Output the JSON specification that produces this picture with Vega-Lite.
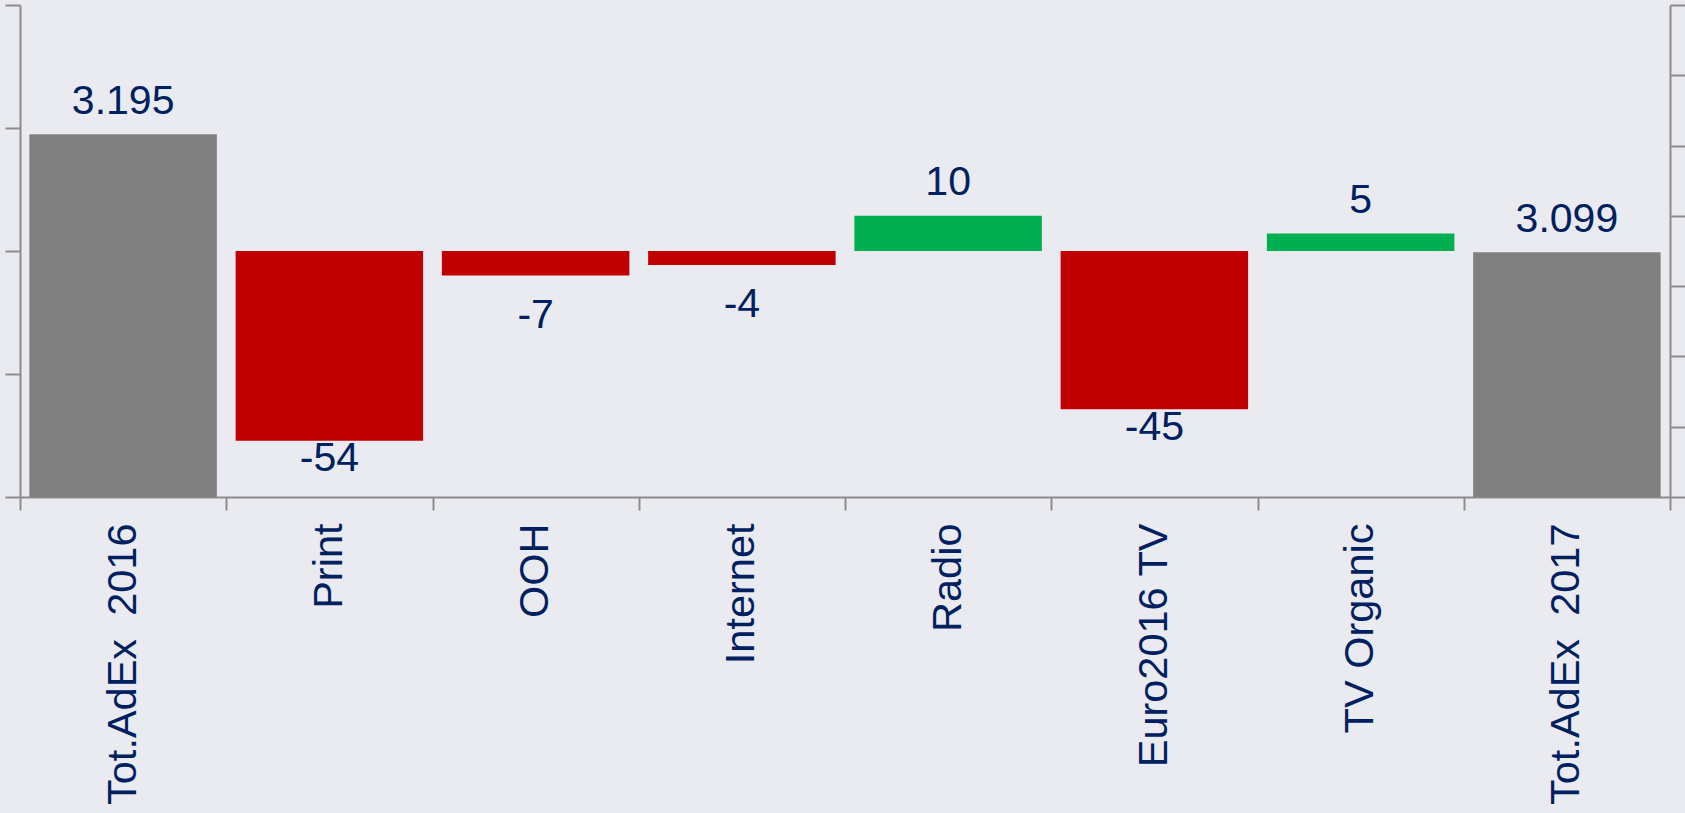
{
  "$schema": "https://vega.github.io/schema/vega-lite/v6.json",
  "width": 1650,
  "height": 492,
  "autosize": {"type": "none"},
  "padding": {"left": 20, "top": 5, "right": 15, "bottom": 316},
  "background": "#EAEBF0",
  "config": {
    "view": {"stroke": null},
    "locale": {"number": {"decimal": ",", "thousands": ".", "grouping": [3], "currency": ["", ""], "minus": "-"}},
    "axis": {"domainColor": "#8C8C8C", "tickColor": "#8C8C8C", "domainWidth": 2, "tickWidth": 2, "grid": false, "title": null},
    "text": {"font": "Liberation Sans", "fontSize": 41, "color": "#002060"}
  },
  "data": {"values": [
    {"category": "Tot.AdEx \u00a02016", "kind": "total", "value": 3195},
    {"category": "Print", "kind": "change", "value": -54},
    {"category": "OOH", "kind": "change", "value": -7},
    {"category": "Internet", "kind": "change", "value": -4},
    {"category": "Radio", "kind": "change", "value": 10},
    {"category": "Euro2016 TV", "kind": "change", "value": -45},
    {"category": "TV Organic", "kind": "change", "value": 5},
    {"category": "Tot.AdEx \u00a02017", "kind": "total", "value": 3099}
  ]},
  "encoding": {
    "x": {
      "field": "category", "type": "nominal", "sort": null,
      "scale": {
        "domain": ["Tot.AdEx \u00a02016", "Print", "OOH", "Internet", "Radio", "Euro2016 TV", "TV Organic", "Tot.AdEx \u00a02017"],
        "paddingInner": 0, "paddingOuter": 0
      },
      "axis": {
        "labelAngle": -90, "labelFontSize": 41.5, "labelColor": "#002060", "labelFont": "Liberation Sans",
        "tickSize": 13, "labelPadding": 13, "tickBand": "extent", "labelLimit": 500, "labelOverlap": false
      }
    }
  },
  "layer": [
    {
      "transform": [{"filter": "datum.kind === 'total'"}],
      "encoding": {
        "y": {
          "field": "value", "type": "quantitative",
          "scale": {"domain": [2900, 3300], "zero": false, "nice": false},
          "axis": {"orient": "left", "values": [2900, 3000, 3100, 3200, 3300], "labels": false, "tickSize": 15}
        }
      },
      "layer": [
        {"mark": {"type": "bar", "color": "#808080", "width": {"band": 0.909}}, "encoding": {"y2": {"datum": 2900}}},
        {"mark": {"type": "text", "baseline": "alphabetic", "dy": -20},
         "encoding": {"text": {"field": "value", "type": "quantitative", "format": ",d"}}}
      ]
    },
    {
      "transform": [{"filter": "datum.kind === 'change'"}],
      "encoding": {
        "y": {
          "field": "value", "type": "quantitative",
          "scale": {"domain": [-70, 70], "zero": false, "nice": false},
          "axis": {"orient": "right", "values": [-70, -50, -30, -10, 10, 30, 50, 70], "labels": false, "tickSize": 15}
        }
      },
      "layer": [
        {"mark": {"type": "bar", "width": {"band": 0.909}},
         "encoding": {
           "y2": {"datum": 0},
           "color": {"condition": {"test": "datum.value < 0", "value": "#C00000"}, "value": "#00B050"}
         }},
        {"transform": [{"filter": "datum.value > 0"}],
         "mark": {"type": "text", "baseline": "alphabetic", "dy": -20.5},
         "encoding": {"text": {"field": "value", "type": "quantitative", "format": ",d"}}},
        {"transform": [{"filter": "datum.value < -20"}],
         "mark": {"type": "text", "baseline": "alphabetic", "dy": 30.5},
         "encoding": {"text": {"field": "value", "type": "quantitative", "format": ",d"}}},
        {"transform": [{"filter": "datum.value < 0 && datum.value >= -20"}],
         "mark": {"type": "text", "baseline": "alphabetic", "dy": 52},
         "encoding": {"text": {"field": "value", "type": "quantitative", "format": ",d"}}}
      ]
    }
  ],
  "resolve": {"scale": {"y": "independent"}, "axis": {"y": "independent"}}
}
